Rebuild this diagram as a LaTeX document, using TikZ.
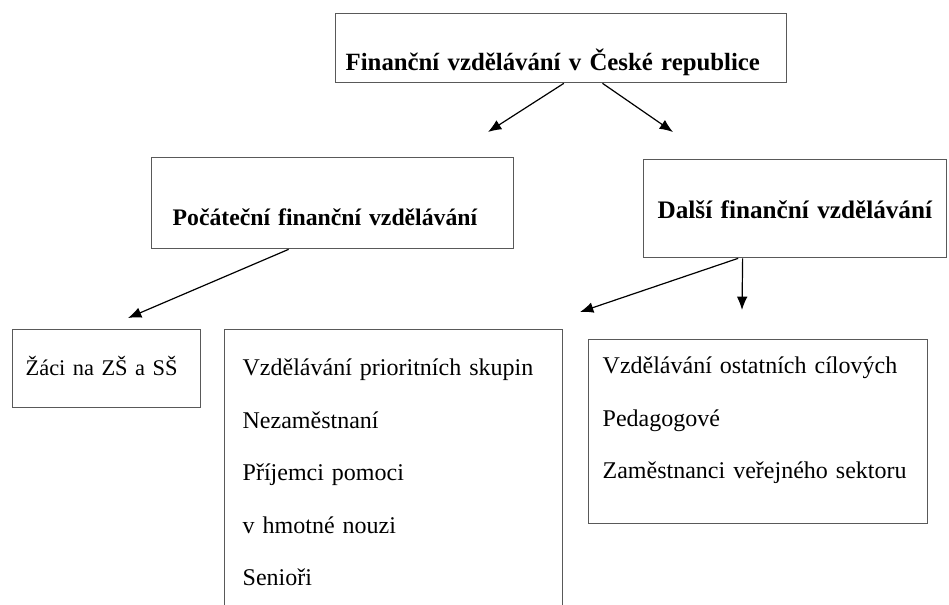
\documentclass[tikz,border=0pt]{standalone}
\usepackage{fontspec}
\setmainfont{Liberation Serif}
\usepackage{tikz}
\usetikzlibrary{arrows.meta,positioning}

\begin{document}
\begin{tikzpicture}
	[x=0.75pt, y=-0.75pt, inner ysep=0pt,
	box/.style	= {rectangle, draw=black!65, line width=1pt, anchor=north west, align=left, font=\fontsize{18}{39.4}\selectfont},
	head/.style	= {box, font=\fontsize{#1}{20}\selectfont\bfseries},
	head/.default	= 18.6,
	paths/.style	= {-{Latex[length=10pt,width=8pt]}, line width=0.9pt}]

	\clip (0,0) rectangle (949,605);
	\fill[white] (0,0) rectangle (949,605);

	\node at (335, 13)	[head, inner xsep=7.5pt, text width=323.25pt, text height=42.75pt, text depth=9pt]	(fin)	{Finanční vzdělávání v České republice};
	\node at (151, 157)	[head=17.8, inner xsep=15.75pt, text width=240pt, text height=51pt, text depth=17.25pt]	(poc)	{Počáteční finanční vzdělávání};
	\node at (643, 159)	[head=18.9, inner xsep=10.5pt, text width=206.25pt, text height=44.25pt, text depth=29.25pt]	(dal)	{Další finanční vzdělávání};

	\node at (12, 329)	[box, font=\fontsize{16.8}{20}\selectfont, inner xsep=9.75pt, text width=121.5pt, text height=34.5pt, text depth=24pt]	(zaci)	{\mbox{Žáci na ZŠ a SŠ}};
	\node at (224, 329)	[box, inner xsep=13.5pt, text width=226.5pt, text height=34.5pt, text depth=200pt]	(prior)	{Vzdělávání prioritních skupin\\ Nezaměstnaní\\ Příjemci pomoci\\ v hmotné nouzi\\ Senioři};
	\node at (588, 339)	[box, inner xsep=10.5pt, text width=233.25pt, text height=25.5pt, text depth=112.5pt]	(ostat)	{Vzdělávání ostatních cílových\\ Pedagogové\\ Zaměstnanci veřejného sektoru};

	\coordinate (e1) at (488, 132);
	\coordinate (e2) at (673, 132);
	\coordinate (e3) at (128, 318);
	\coordinate (e4) at (580, 312);
	\coordinate (e5) at (742, 310);

	\draw [paths] ([xshift=2pt]fin.south) -- (e1);
	\draw [paths] ([xshift=31pt]fin.south) -- (e2);
	\draw [paths] ([xshift=-33pt]poc.south) -- (e3);
	\draw [paths] ([xshift=-42.75pt]dal.south) -- (e4);
	\draw [paths] ([xshift=-39.4pt]dal.south) -- (e5);

\end{tikzpicture}
\end{document}
